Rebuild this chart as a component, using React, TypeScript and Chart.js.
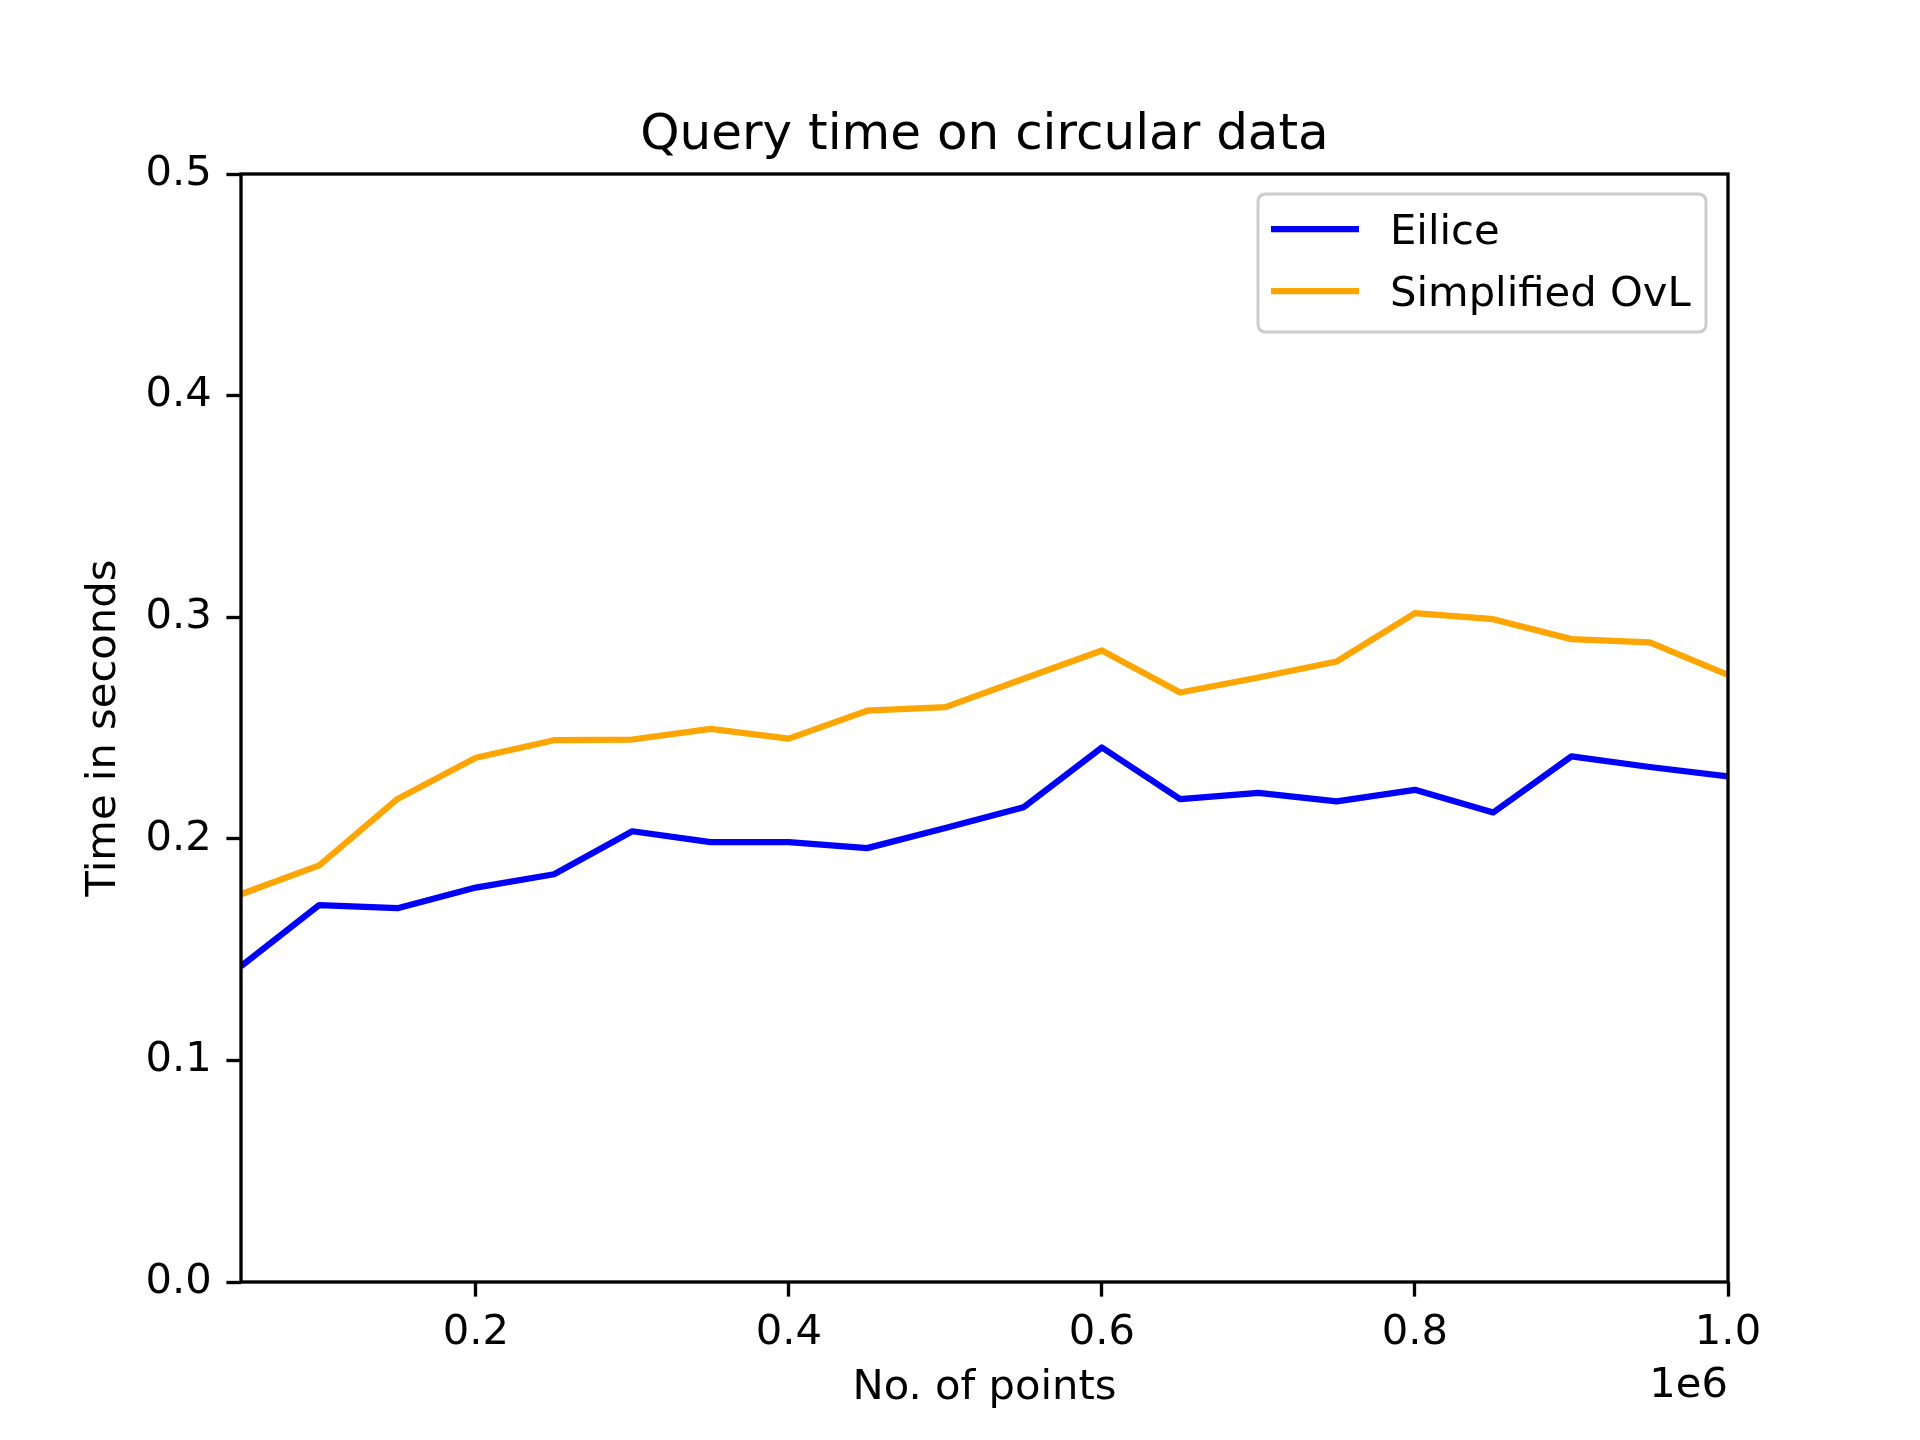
import React, { useEffect, useRef } from "react";
import { Chart, registerables } from "chart.js";

Chart.register(...registerables);

const nPoints = [50000, 100000, 150000, 200000, 250000, 300000, 350000, 400000, 450000, 500000, 550000, 600000, 650000, 700000, 750000, 800000, 850000, 900000, 950000, 1000000];
const eiliceTimes = [0.1425, 0.1701, 0.1687, 0.178, 0.184, 0.2034, 0.1985, 0.1985, 0.1958, 0.2049, 0.2142, 0.2412, 0.2179, 0.2207, 0.2169, 0.2221, 0.2119, 0.2372, 0.2324, 0.2282];
const ovlTimes = [0.175, 0.188, 0.218, 0.2366, 0.2445, 0.2448, 0.2496, 0.2452, 0.2578, 0.2594, 0.2722, 0.285, 0.266, 0.2728, 0.28, 0.3018, 0.2991, 0.2901, 0.2886, 0.274];
const seriesLabels = ["Eilice", "Simplified OvL"];
const seriesColors = ["#0000ff", "#ffa500"];
const xTickValues = [200000, 400000, 600000, 800000, 1000000];
const yTickValues = [0, 0.1, 0.2, 0.3, 0.4, 0.5];
const titleText = "Query time on circular data";
const xLabelText = "No. of points";
const yLabelText = "Time in seconds";
const offsetText = "1e6";

const FONT = "'DejaVu Sans', sans-serif";
const TICK_PX = 41.7;

const decorPlugin = {
  id: "decor",
  beforeDraw(chart: any) {
    const ctx = chart.ctx;
    ctx.save();
    ctx.fillStyle = "#ffffff";
    ctx.fillRect(0, 0, chart.width, chart.height);
    ctx.restore();
  },
  afterDatasetsDraw(chart: any) {
    const ctx = chart.ctx;
    const a = chart.chartArea;
    ctx.save();
    // spines
    ctx.strokeStyle = "#000000";
    ctx.lineWidth = 3.33;
    ctx.lineJoin = "miter";
    ctx.strokeRect(a.left, a.top, a.right - a.left, a.bottom - a.top);

    // title
    ctx.fillStyle = "#000000";
    ctx.font = `50px ${FONT}`;
    ctx.textAlign = "center";
    ctx.textBaseline = "alphabetic";
    const cx = (a.left + a.right) / 2;
    ctx.fillText(titleText, cx, a.top - 25);

    // axis labels
    ctx.font = `${TICK_PX}px ${FONT}`;
    ctx.textBaseline = "middle";
    ctx.fillText(xLabelText, cx, 1388);
    ctx.textAlign = "right";
    ctx.fillText(offsetText, a.right, 1386);
    ctx.save();
    ctx.translate(104, (a.top + a.bottom) / 2);
    ctx.rotate(-Math.PI / 2);
    ctx.textAlign = "center";
    ctx.fillText(yLabelText, 0, 0);
    ctx.restore();

    // legend
    const lx = 1258, ly = 194, lw = 448, lh = 138, r = 8;
    ctx.beginPath();
    ctx.moveTo(lx + r, ly);
    ctx.lineTo(lx + lw - r, ly);
    ctx.quadraticCurveTo(lx + lw, ly, lx + lw, ly + r);
    ctx.lineTo(lx + lw, ly + lh - r);
    ctx.quadraticCurveTo(lx + lw, ly + lh, lx + lw - r, ly + lh);
    ctx.lineTo(lx + r, ly + lh);
    ctx.quadraticCurveTo(lx, ly + lh, lx, ly + lh - r);
    ctx.lineTo(lx, ly + r);
    ctx.quadraticCurveTo(lx, ly, lx + r, ly);
    ctx.closePath();
    ctx.fillStyle = "rgba(255,255,255,0.8)";
    ctx.fill();
    ctx.strokeStyle = "#cccccc";
    ctx.lineWidth = 3;
    ctx.stroke();

    const rows = [229, 291];
    chart.data.datasets.forEach((ds: any, i: number) => {
      const y = rows[i];
      ctx.strokeStyle = ds.borderColor;
      ctx.lineWidth = 6.25;
      ctx.lineCap = "butt";
      ctx.beginPath();
      ctx.moveTo(1271, y);
      ctx.lineTo(1359, y);
      ctx.stroke();
      ctx.fillStyle = "#000000";
      ctx.font = `${TICK_PX}px ${FONT}`;
      ctx.textAlign = "left";
      ctx.textBaseline = "middle";
      ctx.fillText(ds.label, 1390, y + 4);
    });
    ctx.restore();
  },
};

export default function App() {
  const ref = useRef<HTMLCanvasElement | null>(null);
  useEffect(() => {
    if (!ref.current) return;
    const chart = new Chart(ref.current, {
      type: "line",
      data: {
        datasets: [
          {
            label: seriesLabels[0],
            data: nPoints.map((x, i) => ({ x, y: eiliceTimes[i] })),
            borderColor: seriesColors[0],
            backgroundColor: seriesColors[0],
            borderWidth: 6.25,
            pointRadius: 0,
            tension: 0,
            borderJoinStyle: "round",
            fill: false,
          },
          {
            label: seriesLabels[1],
            data: nPoints.map((x, i) => ({ x, y: ovlTimes[i] })),
            borderColor: seriesColors[1],
            backgroundColor: seriesColors[1],
            borderWidth: 6.25,
            pointRadius: 0,
            tension: 0,
            borderJoinStyle: "round",
            fill: false,
          },
        ],
      },
      options: {
        responsive: false,
        animation: false,
        devicePixelRatio: 1,
        layout: { padding: { top: 174, right: 192, bottom: 0, left: 0 } },
        plugins: {
          legend: { display: false },
          title: { display: false },
          tooltip: { enabled: false },
        },
        scales: {
          x: {
            type: "linear",
            min: 50000,
            max: 1000000,
            afterBuildTicks: (s: any) => {
              s.ticks = xTickValues.map((v) => ({ value: v }));
            },
            afterFit: (s: any) => {
              s.height = 158;
            },
            ticks: {
              color: "#000000",
              font: { family: FONT, size: TICK_PX },
              padding: 12,
              maxRotation: 0,
              autoSkip: false,
              callback: (v: any) => (Number(v) / 1e6).toFixed(1),
            },
            grid: {
              display: true,
              drawOnChartArea: false,
              drawTicks: true,
              tickLength: 14.6,
              tickWidth: 3.33,
              tickColor: "#000000",
              color: "#000000",
            },
            border: { display: false },
          },
          y: {
            type: "linear",
            min: 0,
            max: 0.5,
            afterBuildTicks: (s: any) => {
              s.ticks = yTickValues.map((v) => ({ value: v }));
            },
            afterFit: (s: any) => {
              s.width = 241;
            },
            ticks: {
              color: "#000000",
              font: { family: FONT, size: TICK_PX },
              padding: 14.6,
              autoSkip: false,
              callback: (v: any) => Number(v).toFixed(1),
            },
            grid: {
              display: true,
              drawOnChartArea: false,
              drawTicks: true,
              tickLength: 14.6,
              tickWidth: 3.33,
              tickColor: "#000000",
              color: "#000000",
            },
            border: { display: false },
          },
        },
      },
      plugins: [decorPlugin],
    } as any);
    return () => chart.destroy();
  }, []);
  return (
    <div style={{ position: "absolute", left: 0, top: 0, width: 1920, height: 1440 }}>
      <canvas ref={ref} width={1920} height={1440} style={{ width: 1920, height: 1440, display: "block" }} />
    </div>
  );
}
